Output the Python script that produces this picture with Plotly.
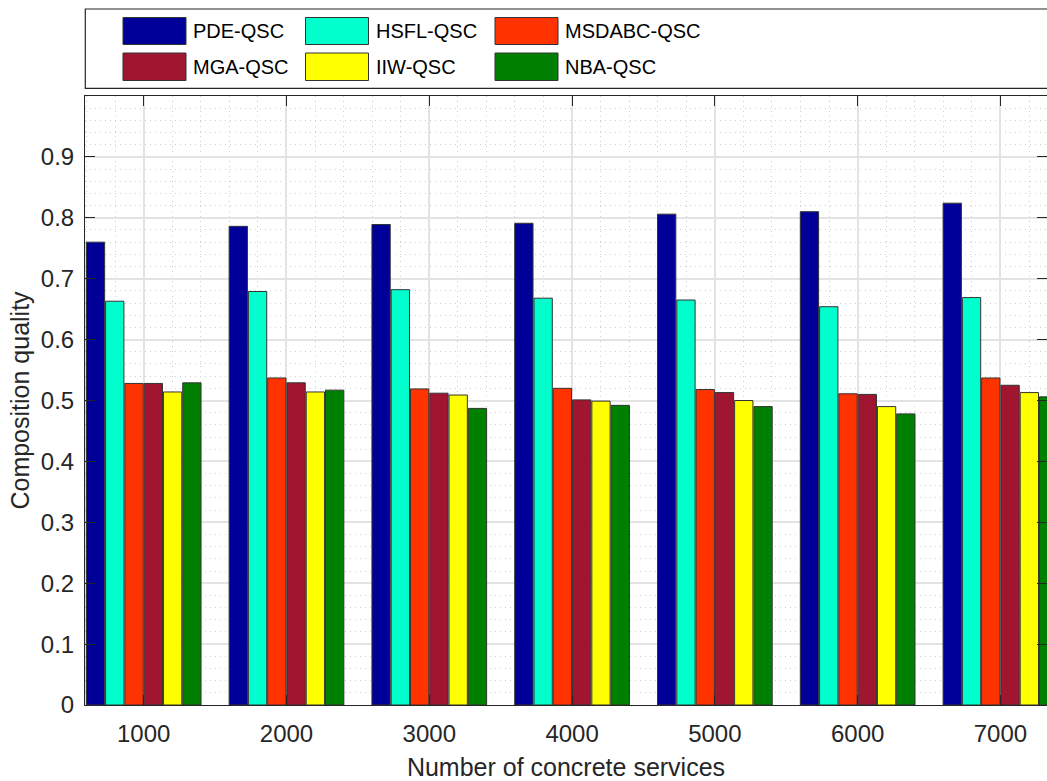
import plotly.graph_objects as go

services = [1000, 2000, 3000, 4000, 5000, 6000, 7000]
series_names = ["PDE-QSC", "HSFL-QSC", "MSDABC-QSC", "MGA-QSC", "IIW-QSC", "NBA-QSC"]
pde = [0.760, 0.786, 0.789, 0.791, 0.806, 0.810, 0.824]
hsfl = [0.663, 0.679, 0.682, 0.668, 0.665, 0.654, 0.669]
msdabc = [0.528, 0.537, 0.519, 0.520, 0.518, 0.511, 0.537]
mga = [0.528, 0.529, 0.512, 0.501, 0.513, 0.510, 0.525]
iiw = [0.514, 0.514, 0.509, 0.499, 0.500, 0.490, 0.513]
nba = [0.529, 0.517, 0.487, 0.492, 0.490, 0.478, 0.506]
colors = ["#000099", "#00FFCC", "#FF3300", "#A01530", "#FFFF00", "#008000"]
ytick_vals = [0, 0.1, 0.2, 0.3, 0.4, 0.5, 0.6, 0.7, 0.8, 0.9]
ytick_text = ["0", "0.1", "0.2", "0.3", "0.4", "0.5", "0.6", "0.7", "0.8", "0.9"]

all_series = [pde, hsfl, msdabc, mga, iiw, nba]

W, H = 1047, 781
L, R, T, B = 85, 0, 96, 76
PW, PH = W - L - R, H - T - B
FONT = "Liberation Sans, Arial, sans-serif"
TXT = "#262626"

fig = go.Figure()
for name, vals, col in zip(series_names, all_series, colors):
    fig.add_trace(go.Bar(
        x=services, y=vals, name=name, showlegend=False,
        marker=dict(color=col, line=dict(color="#333333", width=1)),
    ))

def px2paper_x(px):
    return (px - L) / PW

def px2paper_y(py):
    return (H - B - py) / PH

shapes = []
annotations = []
# legend box
shapes.append(dict(type="rect", xref="paper", yref="paper",
                   x0=px2paper_x(85.3), x1=px2paper_x(1060),
                   y0=px2paper_y(88.3), y1=px2paper_y(9),
                   line=dict(color=TXT, width=1.2), fillcolor="white"))
col_x = [123, 305.5, 495]
row_y = [(17.5, 44.5), (53, 80.5)]
for i, (name, col) in enumerate(zip(series_names, colors)):
    r, c = divmod(i, 3)
    x0 = col_x[c]
    y0, y1 = row_y[r]
    shapes.append(dict(type="rect", xref="paper", yref="paper",
                       x0=px2paper_x(x0), x1=px2paper_x(x0 + 63),
                       y0=px2paper_y(y1), y1=px2paper_y(y0),
                       line=dict(color="#333333", width=1), fillcolor=col))
    annotations.append(dict(xref="paper", yref="paper",
                            x=px2paper_x(x0 + 68), y=px2paper_y((y0 + y1) / 2),
                            text=name, showarrow=False, xanchor="left", yanchor="middle",
                            font=dict(family=FONT, size=20, color="black")))

fig.update_layout(
    width=W, height=H,
    margin=dict(l=L, r=R, t=T, b=B),
    paper_bgcolor="white", plot_bgcolor="white",
    barmode="group", bargap=0.19, bargroupgap=0.05,
    font=dict(family=FONT, color=TXT),
    shapes=shapes, annotations=annotations,
)
fig.update_xaxes(
    range=[589, 7326], tickvals=services, ticktext=[str(s) for s in services],
    ticks="inside", ticklen=10, tickwidth=1, tickcolor=TXT,
    showline=True, linecolor=TXT, linewidth=1, mirror="ticks",
    showgrid=True, gridcolor="#e3e3e3", gridwidth=1.5,
    minor=dict(dtick=200, tick0=0, showgrid=True, gridcolor="#cfcfcf", griddash="1px,4px", gridwidth=1),
    tickfont=dict(size=24, color=TXT), ticklabelstandoff=7,
    title=dict(text="Number of concrete services", font=dict(size=25, color=TXT), standoff=12),
    zeroline=False,
)
fig.update_yaxes(
    range=[0, 1], tickvals=ytick_vals, ticktext=ytick_text,
    ticks="inside", ticklen=10, tickwidth=1, tickcolor=TXT,
    showline=True, linecolor=TXT, linewidth=1, mirror="ticks",
    showgrid=True, gridcolor="#e3e3e3", gridwidth=1.5,
    minor=dict(dtick=0.02, tick0=0, showgrid=True, gridcolor="#cfcfcf", griddash="1px,4px", gridwidth=1),
    tickfont=dict(size=24, color=TXT), ticklabelstandoff=5,
    title=dict(text="Composition quality", font=dict(size=25, color=TXT), standoff=4),
    zeroline=False,
)

fig.write_html("out.html")
